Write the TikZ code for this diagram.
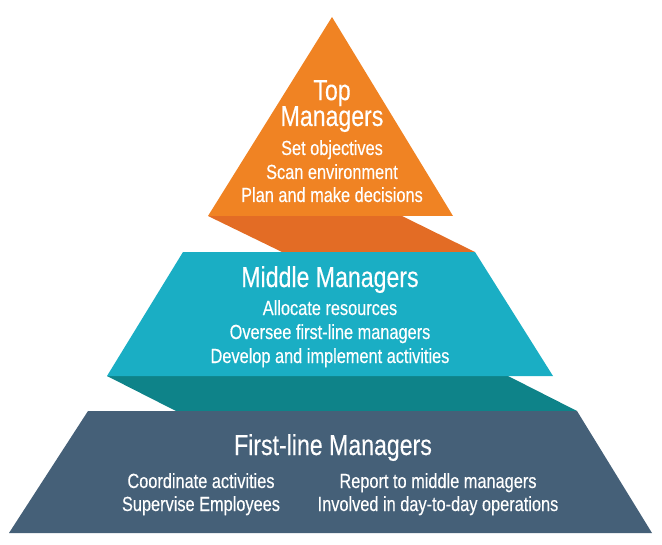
\documentclass[tikz,border=0pt]{standalone}
\usepackage{fontspec}
\setmainfont{Liberation Sans}[FakeStretch=0.8, FakeBold=0.3]
\usepackage{tikz}
\definecolor{toporange}{RGB}{240,131,35}
\definecolor{topshade}{RGB}{227,108,37}
\definecolor{midteal}{RGB}{26,174,196}
\definecolor{midshade}{RGB}{14,131,137}
\definecolor{lowslate}{RGB}{69,96,120}

\begin{document}
\begin{tikzpicture}[x=1bp, y=-1bp,
    title/.style={text=white, anchor=base, inner sep=0pt, font=\fontsize{29}{24}\selectfont},
    item/.style={text=white, anchor=base, inner sep=0pt, font=\fontsize{20.5}{22}\selectfont}]
  \useasboundingbox (0,0) rectangle (662,545);

  % Draw shadows between the levels
  \fill[topshade] (208,216) -- (402,216) -- (475,252) -- (282,252) -- cycle;
  \fill[midshade] (107,376) -- (508,376) -- (577,411) -- (176,411) -- cycle;

  % Draw the three levels
  \fill[toporange] (332,17) -- (453,216) -- (208,216) -- cycle;
  \fill[midteal] (183,252) -- (475,252) -- (553,376) -- (107,376) -- cycle;
  \fill[lowslate] (88,411) -- (577,411) -- (652,533) -- (9,533) -- cycle;

  % Top managers
  \node[title, align=center] (toptitle) at (332,126) {Top\\[-1bp]Managers};
  \node[item] (topA) at (332,155) {Set objectives};
  \node[item] (topB) at (332,179) {Scan environment};
  \node[item] (topC) at (332,202) {Plan and make decisions};

  % Middle managers
  \node[title] (midtitle) at (330,287) {Middle Managers};
  \node[item] (midA) at (330,315) {Allocate resources};
  \node[item] (midB) at (330,339) {Oversee first-line managers};
  \node[item] (midC) at (330,363) {Develop and implement activities};

  % First-line managers
  \node[title] (lowtitle) at (333,455) {First-line Managers};
  \node[item] (lowA) at (201,488) {Coordinate activities};
  \node[item] (lowB) at (201,511) {Supervise Employees};
  \node[item] (lowC) at (438,488) {Report to middle managers};
  \node[item] (lowD) at (438,511) {Involved in day-to-day operations};
\end{tikzpicture}
\end{document}
